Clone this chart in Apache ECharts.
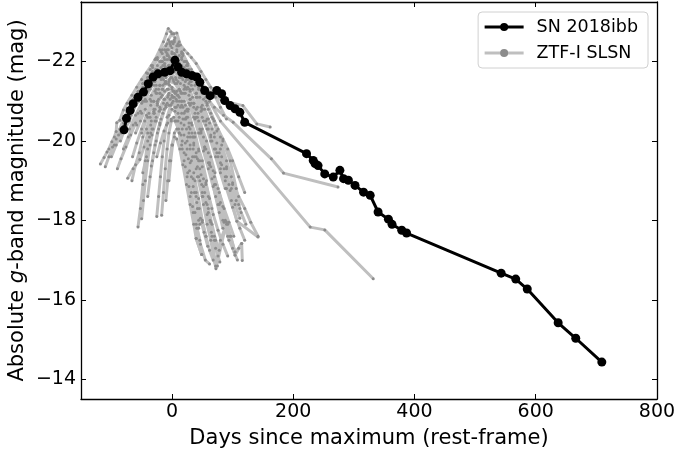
<!DOCTYPE html>
<html>
<head>
<meta charset="utf-8">
<script src="https://cdn.jsdelivr.net/npm/echarts@6/dist/echarts.min.js"></script>
<style>html,body{margin:0;padding:0;background:#fff}#c{width:678px;height:450px}</style>
</head>
<body>
<div id="c"></div>
<script>
// ---- SN 2018ibb (days since max, absolute g mag) ----
const snDays = [-79,-75,-69,-64,-56,-47,-39,-31,-23,-12,-3,5,10,16,24,33,41,46,54,63,74,82,87,96,104,112,120,222,233,236,241,252,266,277,283,291,302,316,327,340,357,363,379,387,543,567,586,637,666,709];
const snMags = [-20.28,-20.57,-20.77,-20.94,-21.10,-21.23,-21.44,-21.61,-21.69,-21.73,-21.77,-22.03,-21.86,-21.73,-21.69,-21.65,-21.61,-21.48,-21.27,-21.14,-21.27,-21.19,-21.02,-20.89,-20.81,-20.72,-20.47,-19.68,-19.51,-19.43,-19.38,-19.17,-19.09,-19.26,-19.05,-19.01,-18.88,-18.71,-18.63,-18.21,-18.03,-17.90,-17.75,-17.68,-16.67,-16.52,-16.27,-15.42,-15.03,-14.43];

// ---- ZTF-I SLSN light curves ([day, mag]) ----
const ztf01 = [[-118,-19.42],[-112,-19.58],[-107,-19.72],[-104,-19.8],[-99,-19.98],[-95,-20.1],[-92,-20.24],[-91,-20.46],[-86,-20.52],[-80,-20.78],[-74,-20.95],[-66,-21.15],[-58,-21.35],[-50,-21.55],[-42,-21.72],[-34,-21.9],[-26,-22.08],[-18,-22.25],[-10,-22.4],[-4,-22.5],[2,-22.45],[8,-22.3],[16,-22.1],[24,-21.9],[34,-21.7],[46,-21.5],[58,-21.3],[70,-21.15],[84,-21.0],[100,-20.95],[117,-20.89],[140,-20.43],[162,-20.35]];
const ztf02 = [[-60,-20.9],[-52,-21.2],[-44,-21.5],[-36,-21.8],[-28,-22.05],[-20,-22.3],[-14,-22.5],[-9,-22.7],[-6,-22.83],[-2,-22.75],[3,-22.7],[8,-22.72],[12,-22.5],[14,-22.42],[20,-22.3],[26,-22.2],[32,-22.1],[40,-21.95],[48,-21.75],[56,-21.55],[64,-21.35],[72,-21.1],[80,-20.85],[90,-20.55]];
const ztf03 = [[-40,-20.6],[-30,-21.0],[-20,-21.4],[-12,-21.7],[-4,-21.9],[4,-22.0],[12,-21.95],[22,-21.8],[32,-21.6],[44,-21.35],[56,-21.1],[70,-20.85],[85,-20.65],[101,-20.47],[164,-19.55],[184,-19.19],[274,-18.84]];
const ztf04 = [[-50,-20.2],[-38,-20.7],[-26,-21.2],[-16,-21.6],[-6,-21.9],[2,-22.1],[10,-22.0],[20,-21.85],[32,-21.65],[46,-21.45],[62,-21.0],[80,-20.5],[228,-17.83],[252,-17.76],[332,-16.53]];
const ztf05 = [[-30,-20.8],[-20,-21.2],[-10,-21.5],[0,-21.6],[10,-21.5],[20,-21.3],[30,-21.05],[40,-20.8],[52,-20.5],[64,-20.1],[76,-19.6],[88,-19.0],[98,-18.5],[107,-17.98],[142,-17.58]];
const ztf06 = [[-45,-20.5],[-35,-20.9],[-25,-21.2],[-15,-21.4],[-5,-21.5],[5,-21.45],[15,-21.2],[25,-20.8],[33,-20.2],[40,-19.6],[46,-19.0],[52,-18.4],[58,-17.9],[64,-17.5],[72.6,-16.78],[90,-17.96],[104,-17.12],[115,-17.42],[116,-16.99]];
const ztf07 = [[-20,-20.4],[-10,-20.9],[0,-21.1],[8,-21.0],[16,-20.7],[24,-20.3],[30,-19.8],[36,-19.2],[40,-18.6],[44,-18.0],[40,-17.54],[49,-17.14]];
const ztf08 = [[-56,-17.83],[-52,-18.3],[-48,-18.9],[-44,-19.5],[-40,-20.0],[-35,-20.4],[-30,-20.7],[-24,-20.95],[-16,-21.15],[-8,-21.3],[0,-21.35],[8,-21.25],[16,-21.0],[26,-20.6],[36,-20.1],[46,-19.5],[56,-18.9],[66,-18.3]];
const ztf09 = [[-50,-18.04],[-47,-18.5],[-44,-19.0],[-40,-19.5],[-36,-19.9],[-31,-20.3],[-26,-20.6],[-20,-20.85],[-13,-21.05],[-6,-21.15],[2,-21.1],[10,-20.9],[18,-20.55],[26,-20.1],[34,-19.6],[42,-19.1],[50,-18.6]];
const ztf10 = [[-73,-19.06],[-64,-19.3],[-53,-19.53],[-46,-19.85],[-40,-20.2],[-34,-20.5],[-28,-20.8],[-22,-21.05],[-16,-21.3],[-10,-21.45],[-4,-21.55],[2,-21.55],[8,-21.45],[14,-21.25],[20,-21.0],[26,-20.75],[32,-20.45],[38,-20.1],[44,-19.75],[50,-19.35],[56,-18.95],[62,-18.55]];
const ztf11 = [[-34,-19.37],[-30,-19.7],[-26,-20.0],[-22,-20.3],[-18,-20.55],[-13,-20.8],[-8,-20.95],[-3,-21.05],[2,-21.0],[7,-20.85],[12,-20.6],[17,-20.3],[22,-19.95],[27,-19.55],[32,-19.1],[37,-18.7],[42,-18.3],[46,-17.9]];
const ztf12 = [[-25,-18.1],[-22,-18.6],[-19,-19.1],[-16,-19.6],[-13,-20.0],[-9,-20.4],[-5,-20.65],[0,-20.8],[5,-20.75],[10,-20.5],[15,-20.15],[20,-19.7],[26,-19.2],[32,-18.7],[38,-18.2],[44,-17.8]];
const ztf13 = [[-17,-18.13],[-14,-18.7],[-11,-19.3],[-8,-19.8],[-5,-20.2],[-1,-20.5],[3,-20.6],[7,-20.5],[12,-20.2],[17,-19.8],[22,-19.35],[28,-18.85],[34,-18.35],[40,-17.9],[46,-17.5]];
const ztf14 = [[-10,-18.5],[-7,-19.0],[-4,-19.5],[0,-19.9],[4,-20.1],[8,-20.05],[13,-19.8],[18,-19.4],[24,-18.9],[30,-18.4],[36,-17.9],[40,-17.54],[49,-17.14]];
const ztf15 = [[-80,-19.8],[-72,-20.1],[-64,-20.4],[-56,-20.7],[-48,-21.0],[-40,-21.3],[-32,-21.55],[-24,-21.8],[-16,-22.0],[-8,-22.15],[0,-22.2],[8,-22.1],[16,-21.9],[24,-21.65],[32,-21.4],[40,-21.1],[48,-20.75],[56,-20.4],[64,-20.0],[72,-19.6],[80,-19.2],[88,-18.8]];
const ztf16 = [[-65,-19.6],[-58,-19.95],[-50,-20.3],[-42,-20.65],[-34,-21.0],[-26,-21.3],[-18,-21.55],[-10,-21.75],[-2,-21.85],[6,-21.8],[14,-21.6],[22,-21.35],[30,-21.05],[38,-20.7],[46,-20.3],[54,-19.85],[62,-19.4],[70,-18.9],[78,-18.4],[86,-17.95],[94,-17.5]];
const ztf17 = [[-90,-19.3],[-84,-19.55],[-76,-19.85],[-68,-20.15],[-60,-20.45],[-52,-20.75],[-44,-21.05],[-36,-21.3],[-28,-21.5],[-20,-21.65],[-12,-21.75],[-4,-21.8],[4,-21.75],[12,-21.6],[20,-21.4],[28,-21.15],[36,-20.85],[44,-20.5],[52,-20.1],[60,-19.7],[68,-19.25],[76,-18.8],[84,-18.35],[92,-17.9]];
const ztf18 = [[-110,-19.35],[-104,-19.6],[-98,-19.85],[-92,-20.05],[-86,-20.3],[-80,-20.55],[-72,-20.8],[-64,-21.05],[-56,-21.25],[-48,-21.45],[-40,-21.6],[-32,-21.75],[-24,-21.9],[-16,-22.0],[-8,-22.05],[0,-22.0],[8,-21.85],[16,-21.6],[24,-21.3],[32,-20.95],[40,-20.6],[48,-20.2],[56,-19.8],[64,-19.35],[72,-18.9],[80,-18.45],[88,-18.0],[96,-17.6],[104,-17.2]];
const ztf19 = [[-30,-21.0],[-22,-21.3],[-14,-21.55],[-6,-21.7],[2,-21.75],[10,-21.7],[18,-21.55],[26,-21.35],[34,-21.1],[42,-20.85],[50,-20.6],[58,-20.3],[66,-20.0],[74,-19.7],[82,-19.4],[90,-19.1],[98,-18.8],[106,-18.5],[114,-18.2],[122,-17.9]];
const ztf20 = [[-20,-21.6],[-12,-21.9],[-4,-22.1],[4,-22.2],[12,-22.15],[20,-22.0],[28,-21.8],[36,-21.55],[44,-21.3],[52,-21.05],[60,-20.8],[68,-20.55],[76,-20.3],[84,-20.05],[92,-19.8],[100,-19.5],[110,-19.1],[120,-18.7]];
const ztf21 = [[-45,-21.0],[-36,-21.35],[-27,-21.7],[-18,-22.0],[-10,-22.25],[-3,-22.45],[4,-22.5],[10,-22.4],[18,-22.2],[26,-21.95],[34,-21.7],[42,-21.45],[50,-21.2],[58,-20.9],[66,-20.6],[74,-20.25],[82,-19.9],[90,-19.5],[98,-19.1]];
const ztf22 = [[-8,-20.6],[-2,-20.9],[4,-21.1],[10,-21.15],[16,-21.0],[22,-20.75],[28,-20.45],[34,-20.1],[40,-19.7],[46,-19.3],[52,-18.85],[58,-18.4],[64,-17.95],[70,-17.5],[76,-17.1]];
const ztf23 = [[-60,-20.2],[-52,-20.5],[-44,-20.8],[-36,-21.05],[-28,-21.25],[-20,-21.4],[-12,-21.45],[-4,-21.4],[4,-21.25],[12,-21.0],[20,-20.7],[28,-20.35],[36,-19.95],[44,-19.5],[52,-19.05],[60,-18.6],[68,-18.15],[76,-17.75],[84,-17.4],[92,-17.1]];
const ztf24 = [[-40,-19.8],[-33,-20.15],[-26,-20.5],[-19,-20.8],[-12,-21.05],[-5,-21.2],[2,-21.25],[9,-21.15],[16,-20.9],[23,-20.55],[30,-20.1],[37,-19.6],[44,-19.1],[51,-18.6],[58,-18.15],[65,-17.7],[72,-17.3],[79,-16.95]];
const ztf25 = [[20,-20.4],[30,-19.9],[40,-19.3],[50,-18.7],[60,-18.2],[66,-17.6],[72,-16.85],[80,-17.5],[90,-17.9],[97,-17.6],[104,-17.2],[110,-17.3],[115,-17.42]];
const ztf26 = [[-70,-20.3],[-60,-20.65],[-50,-20.95],[-40,-21.25],[-30,-21.5],[-20,-21.7],[-10,-21.85],[0,-21.9],[10,-21.85],[20,-21.7],[30,-21.5],[40,-21.2],[50,-20.9],[60,-20.55],[70,-20.2],[80,-19.8],[90,-19.35],[100,-18.9],[110,-18.4]];
const ztf27 = [[-25,-19.6],[-19,-19.95],[-13,-20.25],[-7,-20.45],[-1,-20.55],[5,-20.5],[11,-20.3],[17,-20.0],[23,-19.65],[29,-19.25],[35,-18.85],[41,-18.45],[47,-18.05],[53,-17.7],[59,-17.35]];
const ztf28 = [[-15,-21.9],[-8,-22.2],[-2,-22.4],[4,-22.55],[10,-22.45],[16,-22.25],[22,-22.0],[30,-21.7],[38,-21.4],[46,-21.1],[54,-20.8],[62,-20.45],[70,-20.1],[78,-19.7],[86,-19.3],[94,-18.9]];
const ztf29 = [[-55,-21.1],[-48,-21.35],[-40,-21.6],[-32,-21.85],[-24,-22.05],[-16,-22.2],[-8,-22.3],[0,-22.35],[8,-22.25],[16,-22.05],[24,-21.8],[32,-21.5],[40,-21.2],[48,-20.85],[56,-20.5],[64,-20.15],[72,-19.8],[80,-19.45],[88,-19.1],[96,-18.75],[104,-18.4],[112,-18.05]];
const ztf30 = [[5,-21.2],[12,-21.3],[20,-21.2],[28,-20.95],[36,-20.6],[44,-20.2],[52,-19.75],[60,-19.3],[68,-18.85],[76,-18.4],[84,-18.0],[92,-17.6],[100,-17.3],[108,-17.0]];
const ztf31 = [[-35,-20.2],[-28,-20.5],[-21,-20.75],[-14,-20.95],[-7,-21.1],[0,-21.15],[7,-21.05],[14,-20.85],[21,-20.55],[28,-20.2],[35,-19.8],[42,-19.35],[49,-18.9],[56,-18.45],[63,-18.0],[70,-17.6],[78,-17.25]];
const ztf32 = [[-12,-22.3],[-6,-22.55],[0,-22.7],[5,-22.6],[11,-22.4],[18,-22.15],[26,-21.9],[36,-21.6],[46,-21.3],[58,-20.95],[70,-20.5],[84,-20.0],[96,-19.5],[106,-18.8],[112,-18.3]];
const ztf33 = [[-95,-19.9],[-88,-20.15],[-80,-20.45],[-72,-20.7],[-64,-20.95],[-56,-21.2],[-48,-21.45],[-40,-21.7],[-32,-21.9],[-24,-22.1],[-16,-22.3],[-8,-22.45],[0,-22.5],[8,-22.4],[16,-22.2],[24,-22.0],[32,-21.8],[40,-21.55],[48,-21.3],[56,-21.0],[64,-20.7],[72,-20.4],[80,-20.1]];
const ztf34 = [[30,-21.6],[40,-21.2],[50,-20.8],[60,-20.3],[70,-19.8],[80,-19.3],[90,-18.8],[100,-18.33],[112,-17.8],[120,-17.5]];
const ztf35 = [[-48,-19.2],[-42,-19.6],[-37,-20.1],[-33,-20.3],[-29,-20.7],[-24,-20.9],[-20,-21.2],[-15,-21.3],[-11,-21.5],[-6,-21.45],[-2,-21.6],[3,-21.5],[7,-21.55],[12,-21.3],[17,-21.2],[22,-20.9],[27,-20.8],[33,-20.4],[38,-20.2],[44,-19.8],[50,-19.5],[57,-19.0]];
const ztf36 = [[-85,-20.0],[-78,-20.3],[-70,-20.5],[-62,-20.85],[-55,-21.0],[-48,-21.3],[-41,-21.4],[-34,-21.7],[-27,-21.8],[-20,-22.0],[-13,-22.1],[-6,-22.3],[1,-22.2],[8,-22.0],[15,-21.85],[22,-21.5],[29,-21.3],[36,-20.95],[43,-20.7],[50,-20.3],[57,-20.0],[64,-19.6],[71,-19.2]];
const ztf37 = [[-5,-19.0],[-2,-19.5],[1,-19.9],[4,-20.2],[8,-20.3],[12,-20.2],[16,-19.9],[20,-19.5],[25,-19.1],[30,-18.6],[35,-18.2],[41,-17.8],[47,-17.4],[55,-17.0],[62,-16.9]];
const ztf38 = [[-66,-19.0],[-60,-19.4],[-54,-19.7],[-48,-20.1],[-42,-20.3],[-36,-20.6],[-30,-20.75],[-24,-21.0],[-18,-21.1],[-12,-21.25],[-6,-21.3],[0,-21.3],[6,-21.2],[12,-21.1],[18,-20.85],[24,-20.6],[30,-20.3],[36,-19.9],[42,-19.55],[48,-19.15],[54,-18.7],[60,-18.3],[66,-17.9],[72,-17.5]];
const ztf39 = [[10,-21.9],[18,-21.7],[26,-21.55],[34,-21.3],[42,-21.1],[50,-20.8],[58,-20.55],[66,-20.3],[74,-19.95],[82,-19.6],[90,-19.3],[100,-18.95],[110,-18.6],[120,-18.3],[130,-17.95],[142,-17.6]];
const ztf40 = [[-100,-19.6],[-92,-19.9],[-84,-20.2],[-76,-20.4],[-68,-20.65],[-60,-20.9],[-52,-21.05],[-44,-21.25],[-36,-21.4],[-28,-21.6],[-20,-21.75],[-12,-21.95],[-4,-22.05],[4,-22.1],[12,-21.9],[20,-21.7],[28,-21.45]];
const ztf41 = [[-40,-18.6],[-36,-19.1],[-32,-19.5],[-28,-19.9],[-24,-20.2],[-20,-20.45],[-15,-20.7],[-10,-20.85],[-5,-20.9],[0,-20.95],[5,-20.85],[10,-20.7],[15,-20.45],[20,-20.15],[25,-19.8],[30,-19.45],[35,-19.05],[40,-18.7],[45,-18.3],[50,-17.95],[56,-17.6]];
const ztf42 = [[-30,-21.4],[-24,-21.65],[-18,-21.85],[-12,-22.05],[-6,-22.15],[0,-22.25],[6,-22.15],[12,-21.95],[18,-21.75],[24,-21.55],[30,-21.25],[36,-20.95],[42,-20.6],[48,-20.25],[54,-19.85],[60,-19.45],[66,-19.05],[72,-18.6],[78,-18.2],[84,-17.8]];
const ztf43 = [[25,-20.0],[32,-19.5],[38,-19.0],[44,-18.55],[50,-18.0],[56,-17.6],[62,-17.25],[68,-17.0],[75,-16.85]];
const ztf44 = [[-58,-20.4],[-50,-20.7],[-42,-21.0],[-34,-21.15],[-26,-21.4],[-18,-21.6],[-10,-21.6],[-2,-21.7],[6,-21.6],[14,-21.45],[22,-21.2],[30,-20.9],[38,-20.55],[46,-20.2],[54,-19.8],[62,-19.45],[70,-19.1],[78,-18.7],[86,-18.3],[94,-17.95],[102,-17.6]];
const ztfCurves = [ztf01,ztf02,ztf03,ztf04,ztf05,ztf06,ztf07,ztf08,ztf09,ztf10,ztf11,ztf12,ztf13,ztf14,ztf15,ztf16,ztf17,ztf18,ztf19,ztf20,ztf21,ztf22,ztf23,ztf24,ztf25,ztf26,ztf27,ztf28,ztf29,ztf30,ztf31,ztf32,ztf33,ztf34,ztf35,ztf36,ztf37,ztf38,ztf39,ztf40,ztf41,ztf42,ztf43,ztf44];

const FONT = 'DejaVu Sans';
const fmt = v => (v < 0 ? '\u2212' : '') + Math.abs(v);

const series = ztfCurves.map(c => ({
  name: 'ZTF-I SLSN', type: 'line', data: c,
  xAxisIndex: 0, yAxisIndex: 0,
  symbol: 'circle', symbolSize: 3, showSymbol: true,
  lineStyle: { color: '#bfbfbf', width: 3 },
  itemStyle: { color: '#8c8c8c' },
  z: 2, animation: false, silent: true
}));
series.push({
  name: 'SN 2018ibb', type: 'line',
  data: snDays.map((d, i) => [d, snMags[i]]),
  xAxisIndex: 0, yAxisIndex: 0,
  symbol: 'circle', symbolSize: 9, showSymbol: true,
  lineStyle: { color: '#000', width: 3 },
  itemStyle: { color: '#000' },
  z: 5, animation: false
});

const axisCommon = {
  axisLine: { show: true, onZero: false, lineStyle: { color: '#000', width: 1.3 } },
  axisTick: { show: true, inside: true, length: 5, lineStyle: { color: '#000', width: 1 } },
  splitLine: { show: false }
};

const chart = echarts.init(document.getElementById('c'), null, { renderer: 'canvas' });
chart.setOption({
  animation: false,
  backgroundColor: '#fff',
  grid: { left: 81, right: 21, top: 2, bottom: 51, containLabel: false, outerBoundsMode: 'none' },
  legend: {
    data: [
      { name: 'SN 2018ibb', lineStyle: { width: 3 } },
      { name: 'ZTF-I SLSN', lineStyle: { width: 3 } }
    ],
    orient: 'vertical', right: 30, top: 12,
    padding: [6, 10, 6, 5], itemGap: 8, itemWidth: 39, itemHeight: 10,
    backgroundColor: 'rgba(255,255,255,0.8)', borderColor: '#d0d0d0', borderWidth: 1, borderRadius: 4,
    textStyle: { fontFamily: FONT, fontSize: 17.5, color: '#000', padding: [0, 0, 0, 8] }
  },
  xAxis: [
    Object.assign({ type: 'value', min: -150, max: 800, position: 'bottom',
      name: 'Days since maximum (rest-frame)', nameLocation: 'middle', nameGap: 29, nameMoveOverlap: false,
      nameTextStyle: { fontFamily: FONT, fontSize: 21, color: '#000' },
      axisLabel: { fontFamily: FONT, fontSize: 19, color: '#000', margin: 4, formatter: fmt, showMinLabel: false, showMaxLabel: true } }, axisCommon),
    Object.assign({ type: 'value', min: -150, max: 800, position: 'top', axisLabel: { show: false } }, axisCommon)
  ],
  yAxis: [
    Object.assign({ type: 'value', min: -23.5, max: -13.5, inverse: true, position: 'left',
      name: 'Absolute {i|g}-band magnitude (mag)', nameLocation: 'middle', nameGap: 53, nameRotate: 90, nameMoveOverlap: false,
      nameTextStyle: { fontFamily: FONT, fontSize: 21, color: '#000', rich: { i: { fontFamily: FONT, fontSize: 21, fontStyle: 'italic', color: '#000' } } },
      axisLabel: { fontFamily: FONT, fontSize: 19, color: '#000', margin: 5, formatter: fmt, showMinLabel: false, showMaxLabel: false } }, axisCommon),
    Object.assign({ type: 'value', min: -23.5, max: -13.5, inverse: true, position: 'right', axisLabel: { show: false } }, axisCommon)
  ],
  series: series
});
</script>
</body>
</html>
